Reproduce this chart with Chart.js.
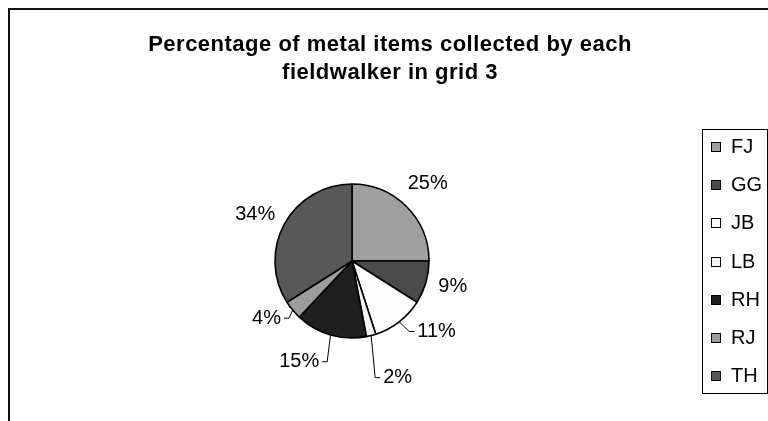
<!DOCTYPE html>
<html>
<head>
<meta charset="utf-8">
<script src="https://cdn.jsdelivr.net/npm/chart.js@4/dist/chart.umd.min.js"></script>
<style>
  html, body { margin: 0; padding: 0; background: #fff; overflow: hidden; }
  body { width: 768px; height: 421px; position: relative; }
  #frame { position: absolute; left: 8px; top: 8px; width: 820px; height: 500px; border: 2px solid #111; box-sizing: border-box; }
  #wrap { position: absolute; left: 0; top: 0; width: 768px; height: 421px; }
</style>
</head>
<body>
<div id="frame"></div>
<div id="wrap"><canvas id="pieChart" width="768" height="421"></canvas></div>
<script>
const walkers = ['FJ', 'GG', 'JB', 'LB', 'RH', 'RJ', 'TH'];
const shares = [25, 9, 11, 2, 15, 4, 34];
const sliceColors = ['#a0a0a0', '#4b4b4b', '#fcfcfc', '#f2f2f2', '#1e1e1e', '#9c9c9c', '#585858'];
const titleLines = ['Percentage of metal items collected by each', 'fieldwalker in grid 3'];

// how far each % label sits off its default radial spot, and which get a leader line
const labelNudge = [[0, -2], [-2, -4], [19, -14], [19, 13], [-23, -2], [-3, -11], [-3, 5]];
const hasLeader = [false, false, true, true, true, true, false];

const FONT = '"Liberation Sans", Arial, sans-serif';

const decor = {
  id: 'decor',
  afterDatasetsDraw(chart) {
    const ctx = chart.ctx;
    const arcs = chart.getDatasetMeta(0).data;
    ctx.save();
    ctx.fillStyle = '#000';
    ctx.strokeStyle = '#000';

    // title, two lines
    ctx.font = 'bold 22px ' + FONT;
    ctx.letterSpacing = '0.5px';
    ctx.textAlign = 'center';
    ctx.textBaseline = 'alphabetic';
    titleLines.forEach((t, i) => ctx.fillText(t, 390, 51 + i * 28));
    ctx.letterSpacing = '0px';

    // percentage labels round the pie
    ctx.font = '20px ' + FONT;
    ctx.textBaseline = 'middle';
    ctx.lineWidth = 1;
    arcs.forEach((arc, i) => {
      const { x, y, startAngle, endAngle, outerRadius } =
        arc.getProps(['x', 'y', 'startAngle', 'endAngle', 'outerRadius'], true);
      const mid = (startAngle + endAngle) / 2;
      const lx = x + Math.cos(mid) * (outerRadius + 30) + labelNudge[i][0];
      const ly = y + Math.sin(mid) * (outerRadius + 30) + labelNudge[i][1];
      const text = shares[i] + '%';
      ctx.textAlign = 'center';
      ctx.fillText(text, lx, ly);

      if (hasLeader[i]) {
        const ex = x + Math.cos(mid) * outerRadius;
        const ey = y + Math.sin(mid) * outerRadius;
        const half = ctx.measureText(text).width / 2;
        const right = lx > ex;
        const sx = right ? lx - half - 3 : lx + half + 3;
        const kx = right ? sx - 5 : sx + 5;
        ctx.beginPath();
        ctx.moveTo(ex, ey);
        ctx.lineTo(kx, ly);
        ctx.lineTo(sx, ly);
        ctx.stroke();
      }
    });

    // legend box
    ctx.lineWidth = 1;
    ctx.strokeRect(702.5, 129.5, 65, 264);
    ctx.textAlign = 'left';
    walkers.forEach((w, i) => {
      const cy = Math.round(147 + i * 38.17);
      ctx.fillStyle = sliceColors[i];
      ctx.fillRect(711, cy - 5, 9, 9);
      ctx.strokeRect(711.5, cy - 4.5, 9, 9);
      ctx.fillStyle = '#000';
      ctx.fillText(w, 731, cy);
    });
    ctx.restore();
  }
};

new Chart(document.getElementById('pieChart'), {
  type: 'pie',
  data: {
    labels: walkers,
    datasets: [{
      data: shares,
      backgroundColor: sliceColors,
      borderColor: '#000',
      borderWidth: 1.6
    }]
  },
  options: {
    responsive: false,
    animation: false,
    radius: 77,
    layout: { padding: { left: 250, right: 314, top: 170, bottom: 69 } },
    plugins: {
      legend: { display: false },
      title: { display: false },
      tooltip: { enabled: false }
    }
  },
  plugins: [decor]
});
</script>
</body>
</html>
